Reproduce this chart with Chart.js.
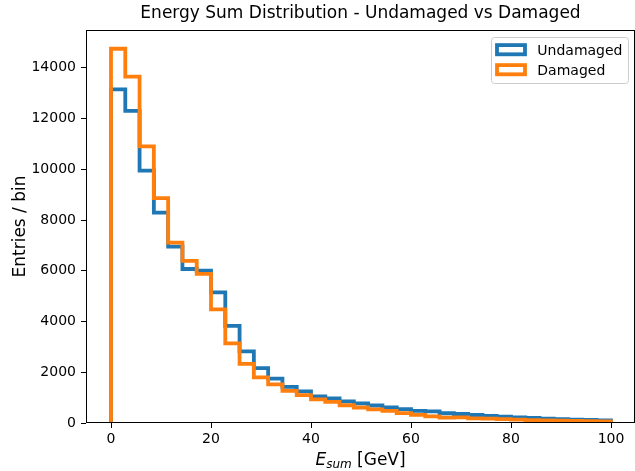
<!DOCTYPE html>
<html>
<head>
<meta charset="utf-8">
<script src="https://cdn.jsdelivr.net/npm/chart.js@4.4.1/dist/chart.umd.min.js"></script>
<style>
  html, body { margin: 0; padding: 0; background: #fff; }
  canvas { display: block; }
</style>
</head>
<body>
<canvas id="chartCanvas" width="635" height="471"></canvas>
<script>
// histogram range and binning
const histRange = [0, 100];
const binCount = 35;

// counts per bin
const undamaged = [13150, 12300, 9950, 8290, 6950, 6070, 6000, 5150, 3830, 2820,
  2160, 1750, 1420, 1250, 1050, 970, 850, 770, 690, 610,
  550, 480, 455, 385, 355, 315, 280, 250, 225, 200,
  170, 155, 135, 120, 105];
const damaged = [14750, 13650, 10900, 8860, 7110, 6390, 5880, 4480, 3140, 2330,
  1800, 1520, 1270, 1100, 930, 830, 700, 610, 540, 475,
  390, 320, 260, 210, 225, 185, 170, 150, 130, 115,
  100, 90, 80, 70, 60];

const seriesNames = ["Undamaged", "Damaged"];
const seriesColors = ["#1f77b4", "#ff7f0e"];

const xTicks = [0, 20, 40, 60, 80, 100];
const yTicks = [0, 2000, 4000, 6000, 8000, 10000, 12000, 14000];

// outline of a step histogram: up at the left edge, across each bin, down at the end
function stepOutline(values) {
  const w = (histRange[1] - histRange[0]) / binCount;
  const pts = [{ x: histRange[0], y: 0 }];
  values.forEach((v, i) => pts.push({ x: histRange[0] + i * w, y: v }));
  pts.push({ x: histRange[1], y: values[values.length - 1] });
  pts.push({ x: histRange[1], y: 0 });
  return pts;
}

Chart.defaults.font.family = "'DejaVu Sans', sans-serif";
Chart.defaults.color = "#000";

// frame, legend and x label drawn on top, like matplotlib
const extras = {
  id: "extras",
  afterDraw(chart) {
    const ctx = chart.ctx;
    const a = chart.chartArea;
    ctx.save();

    ctx.strokeStyle = "#000";
    ctx.lineWidth = 1;
    ctx.strokeRect(a.left + 0.5, a.top + 0.5, a.right - a.left - 1, a.bottom - a.top - 1);

    // legend
    const fx = 491, fy = 37.5, fw = 137, fh = 46, r = 3;
    ctx.beginPath();
    ctx.roundRect(fx + 0.5, fy, fw, fh, r);
    ctx.fillStyle = "rgba(255,255,255,0.8)";
    ctx.fill();
    ctx.strokeStyle = "#cccccc";
    ctx.lineWidth = 1;
    ctx.stroke();

    ctx.font = "14px 'DejaVu Sans'";
    ctx.textBaseline = "alphabetic";
    ctx.textAlign = "left";
    const rowY = [49.7, 69.7];
    seriesNames.forEach((name, i) => {
      ctx.strokeStyle = seriesColors[i];
      ctx.lineWidth = 3.8;
      ctx.lineJoin = "miter";
      ctx.strokeRect(497, rowY[i] - 4.6, 28, 9.2);
      ctx.fillStyle = "#000";
      ctx.fillText(name, 537.3, rowY[i] + 4.8);
    });

    // x label with subscript
    const base = 464.5;
    ctx.fillStyle = "#000";
    const partE = "E", partSub = "sum", partRest = " [GeV]";
    ctx.font = "italic 17px 'DejaVu Sans'";
    const wE = ctx.measureText(partE).width;
    ctx.font = "italic 12px 'DejaVu Sans'";
    const wSub = ctx.measureText(partSub).width;
    ctx.font = "17px 'DejaVu Sans'";
    const wRest = ctx.measureText(partRest).width;
    let x = (a.left + a.right) / 2 - (wE + wSub + wRest) / 2;
    ctx.font = "italic 17px 'DejaVu Sans'";
    ctx.fillText(partE, x, base);
    x += wE;
    ctx.font = "italic 12px 'DejaVu Sans'";
    ctx.fillText(partSub, x, base + 3.5);
    x += wSub;
    ctx.font = "17px 'DejaVu Sans'";
    ctx.fillText(partRest, x, base);

    ctx.restore();
  }
};

const ctx = document.getElementById("chartCanvas").getContext("2d");
const chart = new Chart(ctx, {
  type: "line",
  data: {
    datasets: [
      {
        label: seriesNames[0],
        data: stepOutline(undamaged),
        borderColor: seriesColors[0],
        order: 1
      },
      {
        label: seriesNames[1],
        data: stepOutline(damaged),
        borderColor: seriesColors[1],
        order: 0
      }
    ]
  },
  options: {
    responsive: false,
    animation: false,
    devicePixelRatio: 1,
    layout: { padding: 0 },
    elements: {
      line: {
        borderWidth: 3.8,
        stepped: true,
        tension: 0,
        fill: false,
        borderJoinStyle: "miter",
        borderCapStyle: "butt"
      },
      point: { radius: 0, hoverRadius: 0 }
    },
    plugins: {
      legend: { display: false },
      tooltip: { enabled: false },
      title: {
        display: true,
        fullSize: false,
        text: "Energy Sum Distribution - Undamaged vs Damaged",
        font: { size: 17, weight: "normal" },
        color: "#000",
        padding: { top: 3, bottom: 6.6 }
      }
    },
    scales: {
      x: {
        type: "linear",
        min: -5,
        max: 104.8,
        afterBuildTicks: (axis) => { axis.ticks = xTicks.map(v => ({ value: v })); },
        afterFit: (axis) => { axis.height = 48; },
        border: { display: false },
        grid: { drawOnChartArea: false, drawTicks: true, tickLength: 5, color: "#000" },
        ticks: { font: { size: 14 }, padding: 3, color: "#000", maxRotation: 0,
          callback: (v) => String(v) }
      },
      y: {
        type: "linear",
        min: 0,
        max: 15490,
        afterBuildTicks: (axis) => { axis.ticks = yTicks.map(v => ({ value: v })); },
        afterFit: (axis) => { axis.width = 86; },
        border: { display: false },
        grid: { drawOnChartArea: false, drawTicks: true, tickLength: 5, color: "#000" },
        ticks: { font: { size: 14 }, padding: 5, color: "#000",
          callback: (v) => String(v) },
        title: {
          display: true,
          text: "Entries / bin",
          font: { size: 17 },
          color: "#000",
          padding: { top: 10, bottom: 0 }
        }
      }
    }
  },
  plugins: [extras]
});
</script>
</body>
</html>
